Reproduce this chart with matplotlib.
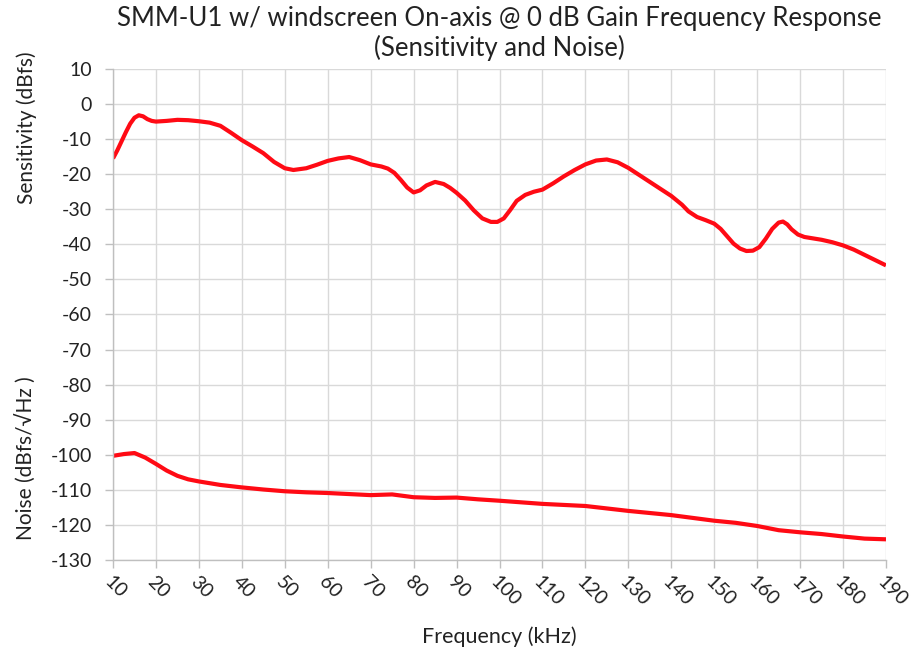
#!/usr/bin/env python3
"""
SMM-U1 w/ windscreen on-axis frequency response: sensitivity and noise
"""

import matplotlib.pyplot as plt

plt.rcParams['font.family'] = ['Lato', 'DejaVu Sans']
plt.rcParams['axes.unicode_minus'] = False

# Sensitivity curve (dBfs)
sens_freq = [10, 11, 12, 13, 14, 15, 16, 17, 18, 19, 20, 22.5, 25, 27.5, 30,
             32.5, 35, 37.5, 40, 42.5, 45, 47.5, 50, 52, 55, 57.5, 60, 62.5,
             65, 67.5, 70, 72.5, 74, 75.5, 77, 78.5, 80, 81.5, 83, 85, 87,
             88.5, 90, 92, 94, 96, 98, 99.5, 101, 102.5, 104, 106, 108, 110,
             112.5, 115, 117.5, 120, 122.5, 125, 127.5, 130, 132.5, 135, 137.5,
             140, 142.5, 144, 146, 148, 150, 151.5, 153, 154.5, 156, 157.5,
             159, 160.5, 162, 163.5, 165, 166, 167, 168, 169.5, 171, 172.5,
             175, 177.5, 180, 182.5, 185, 187.5, 190]
sens_db = [-15.5, -13.2, -10.6, -8.0, -5.6, -3.9, -3.2, -3.5, -4.3, -4.8, -5.0,
           -4.8, -4.5, -4.6, -4.9, -5.3, -6.2, -8.2, -10.3, -12.1, -14, -16.5,
           -18.3, -18.8, -18.3, -17.3, -16.2, -15.5, -15.1, -16, -17.2, -17.8,
           -18.4, -19.6, -21.6, -23.8, -25.2, -24.6, -23.2, -22.2, -22.8,
           -23.9, -25.3, -27.5, -30.3, -32.6, -33.6, -33.6, -32.6, -30.2,
           -27.6, -25.9, -25.0, -24.4, -22.6, -20.6, -18.8, -17.2, -16.1,
           -15.8, -16.6, -18.2, -20.2, -22.2, -24.2, -26.2, -28.7, -30.6,
           -32.2, -33.1, -34.1, -35.6, -37.7, -39.8, -41.2, -41.9, -41.8,
           -40.8, -38.4, -35.6, -33.8, -33.5, -34.3, -35.7, -37.2, -37.9,
           -38.2, -38.7, -39.4, -40.3, -41.5, -43, -44.5, -46]

# Noise curve (dBfs/sqrt(Hz))
noise_freq = [10, 12.5, 15, 17.5, 20, 22.5, 25, 27.5, 30, 35, 40, 45, 50, 55,
              60, 65, 70, 75, 80, 85, 90, 95, 100, 110, 120, 130, 140, 150,
              155, 160, 165, 170, 175, 180, 185, 190]
noise_db = [-100.3, -99.8, -99.5, -100.8, -102.6, -104.5, -106, -107, -107.6,
            -108.6, -109.3, -109.9, -110.4, -110.7, -110.9, -111.2, -111.5,
            -111.3, -112.1, -112.3, -112.2, -112.7, -113.1, -114.0, -114.6,
            -116.0, -117.2, -118.8, -119.4, -120.3, -121.5, -122.1, -122.6,
            -123.3, -123.9, -124.1]

x_ticks = list(range(10, 191, 10))
y_ticks = list(range(-130, 11, 10))

LINE_RED = '#ff0a14'
GRID_GREY = '#d9d9d9'
TEXT = '#222222'

fig = plt.figure(figsize=(9.21, 6.52), dpi=100)
ax = fig.add_axes([0.1227, 0.1411, 0.8393, 0.7531])

ax.plot(sens_freq, sens_db, color=LINE_RED, linewidth=3.0,
        solid_joinstyle='round', solid_capstyle='butt')
ax.plot(noise_freq, noise_db, color=LINE_RED, linewidth=3.0,
        solid_joinstyle='round', solid_capstyle='butt')

ax.set_xlim(10, 190)
ax.set_ylim(-130, 10)
ax.set_xticks(x_ticks)
ax.set_yticks(y_ticks)
ax.grid(True, color=GRID_GREY, linewidth=1.0)
ax.set_axisbelow(True)

for side in ['top', 'right']:
    ax.spines[side].set_visible(False)
for side in ['left', 'bottom']:
    ax.spines[side].set_color('#bfbfbf')
    ax.spines[side].set_linewidth(1.0)

ax.tick_params(axis='both', colors='#bfbfbf', length=6, width=1.0,
               labelcolor=TEXT, labelsize=14)
ax.tick_params(axis='y', pad=9)
for lbl in ax.get_xticklabels():
    lbl.set_rotation(-45)
    lbl.set_ha('left')
    lbl.set_va('top')
    lbl.set_rotation_mode('anchor')

ax.set_xlabel('Frequency (kHz)', fontsize=15.5, color=TEXT, labelpad=12)

ax.set_title('SMM-U1 w/ windscreen On-axis @ 0 dB Gain Frequency Response\n'
             '(Sensitivity and Noise)', fontsize=18.5, color=TEXT,
             linespacing=1.2, pad=9)

fig.text(0.029, 0.804, 'Sensitivity (dBfs)', rotation=90, fontsize=15,
         color=TEXT, ha='center', va='center')
fig.text(0.029, 0.2975, 'Noise (dBfs/\u221aHz )', rotation=90, fontsize=15,
         color=TEXT, ha='center', va='center', family=['Lato', 'DejaVu Sans'])

fig.savefig('out.png', dpi=100)
